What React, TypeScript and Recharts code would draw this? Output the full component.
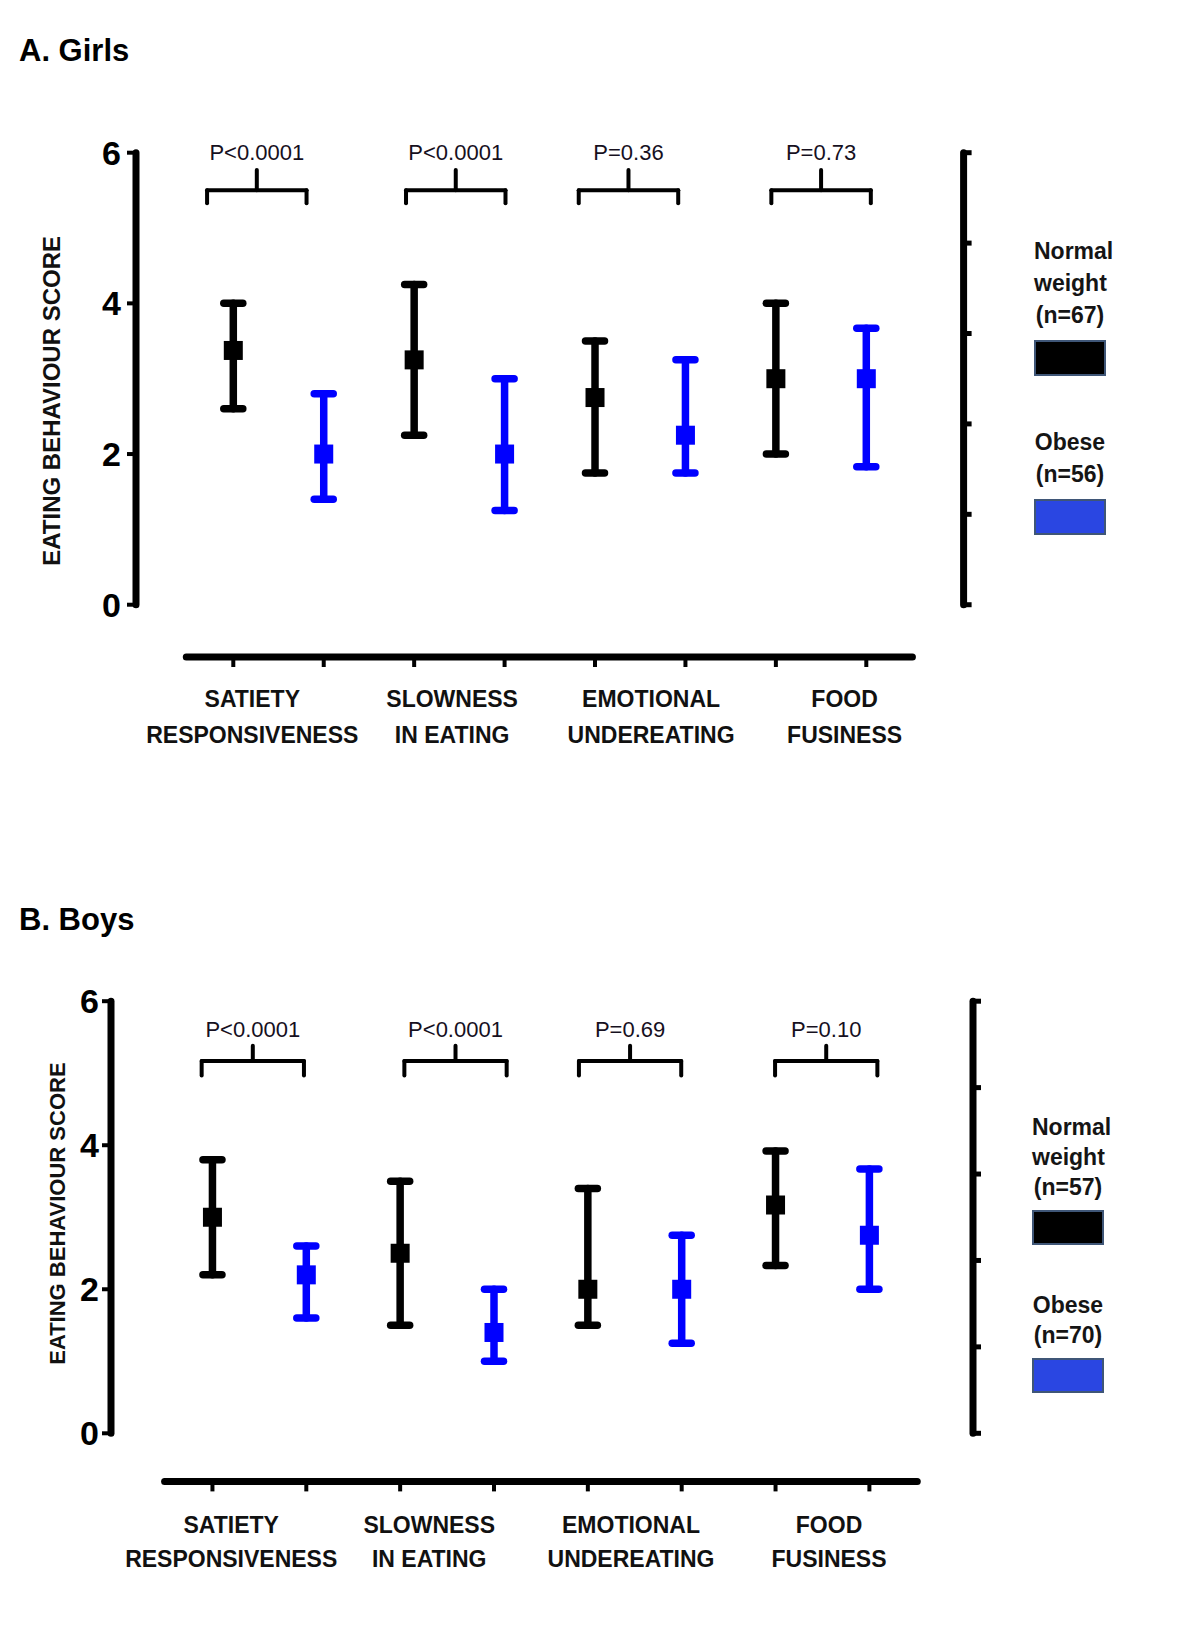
import React from "react";
import {
  ComposedChart,
  Scatter,
  ErrorBar,
  XAxis,
  YAxis,
  ReferenceLine,
  ReferenceDot,
  Legend,
} from "recharts";

// Eating behaviour scores (median with interquartile range), girls and boys,
// normal weight vs obese children, four CEBQ subscales.

const categories = [
  ["SATIETY", "RESPONSIVENESS"],
  ["SLOWNESS", "IN EATING"],
  ["EMOTIONAL", "UNDEREATING"],
  ["FOOD", "FUSINESS"],
];
const groups = ["Normal weight", "Obese"];
const yTicks = [0, 2, 4, 6];
const rightTicks = [0, 1.2, 2.4, 3.6, 4.8, 6];

// Girls
const girlsNormalMedian = [3.375, 3.25, 2.75, 3.0];
const girlsNormalLow = [2.6, 2.25, 1.75, 2.0];
const girlsNormalHigh = [4.0, 4.25, 3.5, 4.0];
const girlsObeseMedian = [2.0, 2.0, 2.25, 3.0];
const girlsObeseLow = [1.4, 1.25, 1.75, 1.83];
const girlsObeseHigh = [2.8, 3.0, 3.25, 3.67];
const girlsP = ["P<0.0001", "P<0.0001", "P=0.36", "P=0.73"];
const girlsN = [67, 56];

// Boys
const boysNormalMedian = [3.0, 2.5, 2.0, 3.17];
const boysNormalLow = [2.2, 1.5, 1.5, 2.33];
const boysNormalHigh = [3.8, 3.5, 3.4, 3.92];
const boysObeseMedian = [2.2, 1.4, 2.0, 2.75];
const boysObeseLow = [1.6, 1.0, 1.25, 2.0];
const boysObeseHigh = [2.6, 2.0, 2.75, 3.67];
const boysP = ["P<0.0001", "P<0.0001", "P=0.69", "P=0.10"];
const boysN = [57, 70];

const FONT = '"Liberation Sans", Arial, sans-serif';
const SERIES_COLORS = ["#000000", "#0000ff"];
const LEGEND_FILLS = ["#000000", "#2a46e2"];

// slot on the x scale: category i, group g -> 2i + 1 + g
function buildSeries(median: number[], low: number[], high: number[], group: number) {
  return median.map((m, i) => ({
    pos: i * 2 + 1 + group,
    median: m,
    err: [m - low[i], high[i] - m],
  }));
}

const positions = categories.flatMap((_, i) => [i * 2 + 1, i * 2 + 2]);

function Square(props: any) {
  const { cx, cy, fill } = props;
  if (cx == null || cy == null) return null;
  return <rect x={cx - 9.5} y={cy - 9.5} width={19} height={19} fill={fill} />;
}

function PanelChart({ cfg }: { cfg: any }) {
  const normal = buildSeries(cfg.normalMedian, cfg.normalLow, cfg.normalHigh, 0);
  const obese = buildSeries(cfg.obeseMedian, cfg.obeseLow, cfg.obeseHigh, 1);
  const [xMin, xMax] = cfg.xDomain;
  const lineStyle = { stroke: "#000", strokeWidth: 7, strokeLinecap: "round" as const };
  const bStyle = { stroke: "#000", strokeWidth: 4, strokeLinecap: "round" as const };

  const renderLegend = (props: any) => {
    const payload = props.payload || [];
    return (
      <div
        style={{
          fontFamily: FONT,
          fontWeight: "bold",
          fontSize: 23,
          lineHeight: `${cfg.legend.lineHeight}px`,
          color: "#151515",
          textAlign: "center",
        }}
      >
        {payload.map((entry: any, k: number) => {
          const g = groups.indexOf(entry.value);
          return (
            <div key={entry.value} style={{ marginTop: k === 0 ? 0 : cfg.legend.groupGap }}>
              {String(entry.value)
                .split(" ")
                .map((w) => (
                  <div key={w}>{w}</div>
                ))}
              <div>(n={cfg.counts[g]})</div>
              <div
                style={{
                  marginTop: cfg.legend.boxGap,
                  width: 72,
                  height: cfg.legend.boxHeight,
                  background: LEGEND_FILLS[g],
                  border: "2px solid #3f5677",
                  boxSizing: "border-box",
                }}
              />
            </div>
          );
        })}
      </div>
    );
  };

  return (
    <div style={{ position: "absolute", left: 0, top: cfg.top }}>
      <ComposedChart width={1200} height={cfg.height} margin={cfg.margin}>
        <XAxis
          xAxisId={0}
          type="number"
          dataKey="pos"
          domain={cfg.xDomain}
          allowDataOverflow
          ticks={positions}
          interval={0}
          tickFormatter={() => ""}
          tick={{ fill: "none", fontSize: 1 }}
          tickSize={10}
          tickLine={{ stroke: "#000", strokeWidth: 4 }}
          axisLine={false}
          height={8}
        />
        <YAxis
          yAxisId={0}
          type="number"
          domain={[cfg.yMin, 6]}
          allowDataOverflow
          ticks={yTicks}
          interval={0}
          width={100}
          tickSize={9}
          tickMargin={cfg.tickMargin}
          axisLine={false}
          tickLine={{ stroke: "#000", strokeWidth: 4 }}
          tick={{ fontSize: 34, fontWeight: 700, fill: "#000", fontFamily: FONT }}
          label={{
            position: "center",
            content: (p: any) => {
              const vb = p.viewBox || { y: 0, height: 0 };
              const cy = vb.y + vb.height / 2 + cfg.titleDy;
              return (
                <text
                  x={cfg.titleX}
                  y={cy}
                  transform={`rotate(-90, ${cfg.titleX}, ${cy})`}
                  textAnchor="middle"
                  dominantBaseline="central"
                  fontFamily={FONT}
                  fontWeight="bold"
                  fontSize={cfg.titleSize}
                  fill="#111"
                >
                  EATING BEHAVIOUR SCORE
                </text>
              );
            },
          }}
        />
        <YAxis
          yAxisId="right"
          orientation="right"
          type="number"
          domain={[cfg.yMin, 6]}
          allowDataOverflow
          ticks={rightTicks}
          interval={0}
          width={20}
          tickSize={8}
          tickFormatter={() => ""}
          tick={{ fill: "none", fontSize: 1 }}
          axisLine={false}
          tickLine={{ stroke: "#000", strokeWidth: 5 }}
        />

        {/* axis lines */}
        <ReferenceLine segment={[{ x: xMin, y: 0 }, { x: xMin, y: 6 }]} ifOverflow="visible" {...lineStyle} />
        <ReferenceLine segment={[{ x: xMax, y: 0 }, { x: xMax, y: 6 }]} ifOverflow="visible" {...lineStyle} />
        <ReferenceLine
          segment={[{ x: cfg.xLine[0], y: cfg.yMin }, { x: cfg.xLine[1], y: cfg.yMin }]}
          ifOverflow="visible"
          {...lineStyle}
        />

        {/* category labels under the detached x axis */}
        {categories.map((lines, i) => (
          <ReferenceDot
            key={lines[0]}
            x={cfg.labelCenters[i]}
            y={cfg.yMin}
            r={0}
            fill="none"
            stroke="none"
            ifOverflow="visible"
            label={{
              position: "center",
              content: (p: any) => {
                const vb = p.viewBox || { x: 0, y: 0, width: 0, height: 0 };
                const cx = vb.x + (vb.width || 0) / 2;
                const cy = vb.y + (vb.height || 0) / 2;
                return (
                  <text
                    x={cx}
                    y={cy}
                    textAnchor="middle"
                    fontFamily={FONT}
                    fontWeight="bold"
                    fontSize={23}
                    fill="#111"
                  >
                    <tspan x={cx} dy={cfg.catDy}>
                      {lines[0]}
                    </tspan>
                    <tspan x={cx} dy={cfg.catGap}>
                      {lines[1]}
                    </tspan>
                  </text>
                );
              },
            }}
          />
        ))}

        {/* significance brackets */}
        {cfg.pValues.map((p: string, i: number) => {
          const c = cfg.bracketCenters[i];
          const l = c - cfg.bracketHalf;
          const r = c + cfg.bracketHalf;
          const { bar, end, notch } = cfg.bracketY;
          return (
            <React.Fragment key={p + i}>
              <ReferenceLine segment={[{ x: l, y: bar }, { x: r, y: bar }]} ifOverflow="visible" {...bStyle} />
              <ReferenceLine segment={[{ x: l, y: bar }, { x: l, y: end }]} ifOverflow="visible" {...bStyle} />
              <ReferenceLine segment={[{ x: r, y: bar }, { x: r, y: end }]} ifOverflow="visible" {...bStyle} />
              <ReferenceLine
                segment={[{ x: c, y: bar }, { x: c, y: notch }]}
                ifOverflow="visible"
                {...bStyle}
                label={{
                  value: p,
                  position: "top",
                  offset: cfg.pOffset,
                  fontSize: 22,
                  fontFamily: FONT,
                  fill: "#16101e",
                }}
              />
            </React.Fragment>
          );
        })}

        <Scatter
          name={groups[0]}
          data={normal}
          dataKey="median"
          fill={SERIES_COLORS[0]}
          shape={<Square />}
          isAnimationActive={false}
        >
          <ErrorBar
            dataKey="err"
            direction="y"
            width={9.5}
            strokeWidth={7.5}
            stroke={SERIES_COLORS[0]}
            strokeLinecap="round"
            isAnimationActive={false}
          />
        </Scatter>
        <Scatter
          name={groups[1]}
          data={obese}
          dataKey="median"
          fill={SERIES_COLORS[1]}
          shape={<Square />}
          isAnimationActive={false}
        >
          <ErrorBar
            dataKey="err"
            direction="y"
            width={9.5}
            strokeWidth={7.5}
            stroke={SERIES_COLORS[1]}
            strokeLinecap="round"
            isAnimationActive={false}
          />
        </Scatter>

        <Legend
          layout="vertical"
          align="center"
          verticalAlign="middle"
          content={renderLegend}
          wrapperStyle={{ left: cfg.legend.left, top: cfg.legend.top, width: 72 }}
        />
      </ComposedChart>
    </div>
  );
}

const girlsCfg = {
  normalMedian: girlsNormalMedian,
  normalLow: girlsNormalLow,
  normalHigh: girlsNormalHigh,
  obeseMedian: girlsObeseMedian,
  obeseLow: girlsObeseLow,
  obeseHigh: girlsObeseHigh,
  pValues: girlsP,
  counts: girlsN,
  top: 0,
  height: 780,
  margin: { top: 152.7, right: 216.4, bottom: 115, left: 36 },
  xDomain: [-0.076, 9.076],
  yMin: -0.694,
  xLine: [0.48, 8.51],
  labelCenters: [1.21, 3.42, 5.62, 7.76],
  catDy: 50,
  catGap: 36,
  bracketCenters: [1.26, 3.46, 5.37, 7.5],
  bracketHalf: 0.55,
  bracketY: { bar: 5.5, end: 5.33, notch: 5.77 },
  pOffset: 10,
  tickMargin: 6,
  titleX: 52,
  titleDy: -4,
  titleSize: 24,
  legend: { left: 1034, top: 235, lineHeight: 32, boxGap: 9, boxHeight: 36, groupGap: 50 },
};

const boysCfg = {
  normalMedian: boysNormalMedian,
  normalLow: boysNormalLow,
  normalHigh: boysNormalHigh,
  obeseMedian: boysObeseMedian,
  obeseLow: boysObeseLow,
  obeseHigh: boysObeseHigh,
  pValues: boysP,
  counts: boysN,
  top: 840,
  height: 800,
  margin: { top: 161.2, right: 207, bottom: 150.6, left: 11 },
  xDomain: [-0.081, 9.104],
  yMin: -0.668,
  xLine: [0.49, 8.51],
  labelCenters: [1.2, 3.31, 5.46, 7.57],
  catDy: 52,
  catGap: 33.5,
  bracketCenters: [1.43, 3.59, 5.45, 7.54],
  bracketHalf: 0.545,
  bracketY: { bar: 5.17, end: 4.97, notch: 5.38 },
  pOffset: 9,
  tickMargin: 3,
  titleX: 57.5,
  titleDy: -27.7,
  titleSize: 22,
  legend: { left: 1032, top: 272, lineHeight: 30, boxGap: 8, boxHeight: 35, groupGap: 45 },
};

const titleStyle: React.CSSProperties = {
  position: "absolute",
  left: 19,
  fontFamily: FONT,
  fontWeight: "bold",
  fontSize: 31,
  lineHeight: "31px",
  color: "#000",
};

export default function App() {
  return (
    <div
      style={{
        position: "absolute",
        left: 0,
        top: 0,
        width: 1200,
        height: 1640,
        background: "#fff",
        fontFamily: FONT,
      }}
    >
      <div style={{ ...titleStyle, top: 34.5 }}>A. Girls</div>
      <PanelChart cfg={girlsCfg} />
      <div style={{ ...titleStyle, top: 904 }}>B. Boys</div>
      <PanelChart cfg={boysCfg} />
    </div>
  );
}
